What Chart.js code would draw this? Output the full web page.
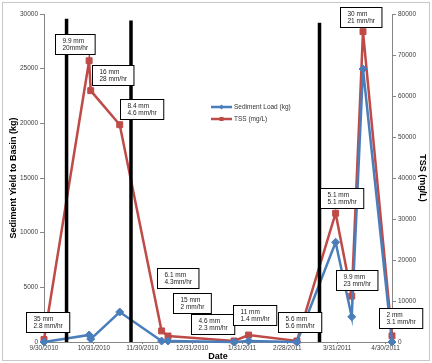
<!DOCTYPE html>
<html lang="en">
<head>
<meta charset="UTF-8">
<title>Sediment Yield and TSS</title>
<style>
  html, body { margin: 0; padding: 0; background: #fff; }
  #wrap { width: 432px; height: 363px; }
</style>
</head>
<body>
<div id="wrap"><canvas id="chart" width="432" height="363"></canvas></div>
<script src="https://cdn.jsdelivr.net/npm/chart.js"></script>
<script>
// sampling dates and measured values
const sampleDates = ['9/30/2010', '10/28/2010', '10/29/2010', '11/16/2010', '12/12/2010', '12/16/2010',
  '1/26/2011', '2/4/2011', '3/6/2011', '3/30/2011', '4/9/2011', '4/16/2011', '5/4/2011'];
const sedimentLoad = [0, 640, 270, 2740, 90, 90, 0, 90, 0, 9120, 2300, 24970, 0];
const tss = [600, 68600, 61300, 53000, 2700, 1460, 250, 1700, 250, 31400, 11200, 75700, 1500];

// axis ticks
const tickDates = ['9/30/2010', '10/31/2010', '11/30/2010', '12/31/2010', '1/31/2011', '2/28/2011', '3/31/2011', '4/30/2011'];
const axisEnd = '5/4/2011';

// storm events (black bars)
const stormDates = ['10/14/2010', '11/23/2010', '3/20/2011'];
const stormTop = [29560, 29400, 29200];

// rain notes: anchor date, anchor height (kg axis), text
const noteDates = ['9/19/2010', '10/7/2010', '10/30/2010', '11/16/2010', '12/9/2010', '12/19/2010',
  '12/30/2010', '1/25/2011', '2/22/2011', '3/20/2011', '3/30/2011', '4/26/2011', '4/2/2011'];
const noteLevels = [2740, 28200, 25300, 22250, 6750, 4470, 2560, 3380, 2740, 14050, 6570, 3100, 30660];
const noteText = [
  ['35 mm', '2.8 mm/hr'], ['9.9 mm', '20mm/hr'], ['16 mm', '28 mm/hr'], ['8.4 mm', '4.6 mm/hr'],
  ['6.1 mm', '4.3mm/hr'], ['15 mm', '2 mm/hr'], ['4.6 mm', '2.3 mm/hr'], ['11 mm', '1.4 mm/hr'],
  ['5.6 mm', '5.6 mm/hr'], ['5.1 mm', '5.1 mm/hr'], ['9.9 mm', '23 mm/hr'], ['2 mm', '3.1 mm/hr'],
  ['30 mm', '21 mm/hr']
];

const start = Date.UTC(2010, 8, 30);
function dayOf(s) {
  const p = s.split('/').map(Number);
  return Math.round((Date.UTC(p[2], p[0] - 1, p[1]) - start) / 864e5);
}

const BLUE = '#4a7ebb';
const RED = '#be4b48';
const FONT = "'Liberation Sans', Arial, sans-serif";

const datasets = [
  {
    label: 'Sediment Load (kg)',
    data: sampleDates.map((d, i) => ({ x: dayOf(d), y: sedimentLoad[i] })),
    yAxisID: 'y',
    borderColor: BLUE, backgroundColor: BLUE,
    borderWidth: 2.5, pointBorderWidth: 1, pointStyle: 'rectRot', pointRadius: 4, pointHoverRadius: 4,
    clip: false, order: 1
  },
  {
    label: 'TSS (mg/L)',
    data: sampleDates.map((d, i) => ({ x: dayOf(d), y: tss[i] })),
    yAxisID: 'y1',
    borderColor: RED, backgroundColor: RED,
    borderWidth: 2.5, pointBorderWidth: 1, pointStyle: 'rect', pointRadius: 4.2, pointHoverRadius: 4.2,
    clip: false, order: 2
  }
];
stormDates.forEach((d, i) => {
  datasets.push({
    label: 'storm',
    data: [{ x: dayOf(d), y: 0 }, { x: dayOf(d), y: stormTop[i] }],
    yAxisID: 'y',
    borderColor: '#000', borderWidth: 3.5, pointRadius: 0,
    clip: false, order: 0
  });
});

const frame = {
  id: 'frame',
  beforeDraw(chart) {
    const c = chart.ctx;
    c.save();
    c.fillStyle = '#fff';
    c.fillRect(0, 0, chart.width, chart.height);
    c.strokeStyle = '#c8c8c8';
    c.lineWidth = 1;
    c.strokeRect(2.5, 2.5, chart.width - 5, chart.height - 5);
    c.restore();
  }
};

const notes = {
  id: 'notes',
  afterDatasetsDraw(chart) {
    const c = chart.ctx, xs = chart.scales.x, ys = chart.scales.y;
    c.save();
    c.font = '6.5px ' + FONT;
    c.textBaseline = 'middle';
    noteDates.forEach((d, i) => {
      const bx = Math.round(xs.getPixelForValue(dayOf(d))) + 0.5;
      const by = Math.round(ys.getPixelForValue(noteLevels[i])) + 0.5;
      const w = Math.max(...noteText[i].map(t => c.measureText(t).width)) + 14;
      c.fillStyle = '#fff';
      c.fillRect(bx, by, w, 20);
      c.strokeStyle = '#000';
      c.lineWidth = 1;
      c.strokeRect(bx, by, w, 20);
      c.fillStyle = '#222';
      c.textAlign = 'left';
      c.fillText(noteText[i][0], bx + 7, by + 7);
      c.fillText(noteText[i][1], bx + 7, by + 14);
    });

    // legend
    const lx = 211, ly = 107;
    [0, 1].forEach(k => {
      const ds = chart.data.datasets[k];
      const y = ly + k * 12;
      c.strokeStyle = ds.borderColor;
      c.lineWidth = 2.5;
      c.beginPath();
      c.moveTo(lx, y);
      c.lineTo(lx + 21, y);
      c.stroke();
      c.fillStyle = ds.borderColor;
      if (k === 0) {
        c.beginPath();
        c.moveTo(lx + 10.5, y - 2.5); c.lineTo(lx + 13, y); c.lineTo(lx + 10.5, y + 2.5); c.lineTo(lx + 8, y);
        c.closePath(); c.fill();
      } else {
        c.fillRect(lx + 8.5, y - 2, 4, 4);
      }
      c.fillStyle = '#333';
      c.font = '6.5px ' + FONT;
      c.fillText(ds.label, lx + 23, y + 0.5);
    });
    c.restore();
  }
};

const tickFont = { family: FONT, size: 6.5 };
const titleFont = { family: FONT, size: 9, weight: 'bold' };

new Chart(document.getElementById('chart'), {
  type: 'line',
  data: { datasets: datasets },
  options: {
    responsive: false,
    animation: false,
    layout: { padding: { top: 14, left: 0, right: 0, bottom: 0 } },
    plugins: { legend: { display: false }, tooltip: { enabled: false } },
    scales: {
      x: {
        type: 'linear',
        min: 0,
        max: dayOf(axisEnd),
        afterBuildTicks: s => { s.ticks = tickDates.map(d => ({ value: dayOf(d) })); },
        ticks: {
          autoSkip: false, maxRotation: 0, padding: 0,
          font: tickFont, color: '#404040',
          callback: (v, i) => tickDates[i]
        },
        grid: { drawOnChartArea: false, tickLength: 2, color: '#868686' },
        border: { color: '#868686' },
        title: { display: true, text: 'Date', font: titleFont, color: '#000', padding: { top: 0, bottom: 1 } },
        afterFit: s => { s.height = 21; }
      },
      y: {
        position: 'left',
        min: 0, max: 30000,
        ticks: { stepSize: 5000, font: tickFont, color: '#404040', padding: 2, callback: v => String(v) },
        grid: { drawOnChartArea: false, tickLength: 4, color: '#868686' },
        border: { color: '#868686' },
        title: { display: true, text: 'Sediment Yield to Basin (kg)', font: titleFont, color: '#000', padding: { top: 8, bottom: 0 } },
        afterFit: s => { s.width = 44; }
      },
      y1: {
        position: 'right',
        min: 0, max: 80000,
        ticks: { stepSize: 10000, font: tickFont, color: '#404040', padding: 2, callback: v => String(v) },
        grid: { drawOnChartArea: false, tickLength: 4, color: '#868686' },
        border: { color: '#868686' },
        title: { display: true, text: 'TSS (mg/L)', font: titleFont, color: '#000', padding: { top: 4, bottom: 0 } },
        afterFit: s => { s.width = 40; }
      }
    }
  },
  plugins: [frame, notes]
});
</script>
</body>
</html>
